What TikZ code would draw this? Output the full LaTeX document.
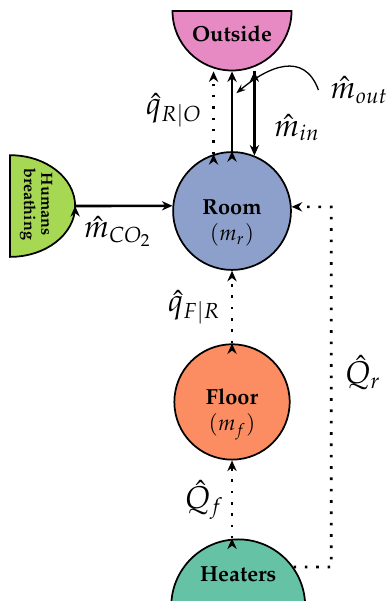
\documentclass[tikz,border=0pt]{standalone}
\usepackage[T1]{fontenc}
\usepackage{amsmath}
\usepackage{mathpazo}
\usepackage{tikz}
\usetikzlibrary{arrows.meta, shapes.geometric}
\definecolor{heatgreen}{HTML}{66C2A5}
\definecolor{floororange}{HTML}{FC8D62}
\definecolor{roomblue}{HTML}{8DA0CB}
\definecolor{outpink}{HTML}{E78AC3}
\definecolor{humgreen}{HTML}{A6D854}
\tikzstyle{body}=[circle, draw, thick]
\tikzstyle{half}=[semicircle, draw, thick, anchor=chord center]
\tikzstyle{bodytext}=[align=center, yshift=-0.2cm, font=\bfseries]
\tikzstyle{mass}=[draw=black, very thick, -{Stealth[length=1.7mm, width=1.5mm]}]
\tikzstyle{heat}=[draw=black, very thick, loosely dotted, -{Stealth[length=1.7mm, width=1.5mm]}]
\tikzstyle{pointer}=[draw=black, semithick, -{Stealth[length=1.5mm]}]
\tikzstyle{flowlabel}=[font=\Large]

\begin{document}
\begin{tikzpicture}
		   \useasboundingbox (-3.742,-6.290) rectangle (2.516,3.403);
		   \begin{scope}
			   \node (room) at (0, 0)[body, fill=roomblue, minimum size=1.9cm,
				   label={[bodytext]center:{Room\\\mdseries$(m_r)$}}] {};
			   \node (floor) at (0, -3.08)[body, fill=floororange, minimum size=1.86cm,
				   label={[bodytext]center:{Floor\\\mdseries$(m_f)$}}] {};
			   \node (outside) at (0, 3.24)[half, shape border rotate=180, fill=outpink,
				   minimum width=1.92cm, label={[font=\bfseries, yshift=-0.63cm]north:Outside}] {};
			   \node (heaters) at (0.1, -6.39)[half, fill=heatgreen,
				   minimum width=2.16cm, label={[font=\bfseries, yshift=0.77cm]south:Heaters}] {};
			   \draw [thick, fill=humgreen] (-3.58, 0.90)
				   arc [start angle=90, end angle=-90, x radius=1.05cm, y radius=0.82cm] -- cycle;
			   \node (humans) at (-3.16, 0.11)[rotate=-90, align=center,
				   font=\fontsize{7.4pt}{8pt}\selectfont\bfseries] {
				   Humans\\breathing
			   };
			   \coordinate (humtip) at (-2.53, 0.08);
			   \coordinate (qr) at (1.6, 0.065);
			   \coordinate (moutpt) at (0.07, 1.9);
		   \end{scope}
		   \begin{scope}
			   \node (qro) at (-0.94, 1.63)[flowlabel] {$\hat{q}_{R|O}$};
			   \node (min) at (1.05, 1.34)[flowlabel] {$\hat{m}_{in}$};
			   \node (mout) at (2.05, 1.95)[flowlabel] {$\hat{m}_{out}$};
			   \node (mco2) at (-1.84, -0.33)[flowlabel] {$\hat{m}_{CO_2}$};
			   \node (qfr) at (-0.61, -1.55)[flowlabel] {$\hat{q}_{F|R}$};
			   \node (Qf) at (-0.45, -4.66)[flowlabel] {$\hat{Q}_f$};
			   \node (Qr) at (2.11, -2.61)[flowlabel] {$\hat{Q}_r$};
		   \end{scope}
		   \begin{scope}
			   \path [heat] (room.108) edge (room.108 |- outside.apex);
			   \path [mass] (room.north) edge (outside.apex);
			   \path [mass] (room.68 |- outside.apex) edge (room.68);
			   \path [mass] (humtip) edge (room.175);
			   \path [heat] (floor.north) edge (room.south);
			   \path [heat] (floor.south |- heaters.apex) edge (floor.south);
			   \draw [heat] (heaters.12) -| (qr) -- (room.4);
			   \draw [pointer] ([xshift=-2pt]mout.west) to[out=110, in=40, looseness=1.3] (moutpt);
		   \end{scope}
	   \end{tikzpicture}
\end{document}
